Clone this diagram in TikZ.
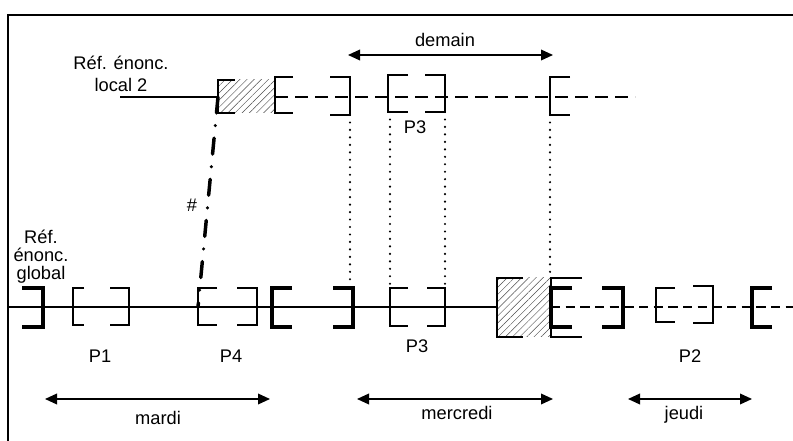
\documentclass[tikz,border=0pt]{standalone}
\usepackage{fontspec}
\setmainfont{Liberation Sans}
\usepackage{tikz}
\usetikzlibrary{arrows.meta}
\usetikzlibrary{patterns.meta}
\tikzset{
    thinbr/.style={line width=0.8pt},
    thickbr/.style={line width=3pt},
    lbl/.style={anchor=base, inner sep=0pt, align=center, font=\fontsize{13.7}{16.5}\selectfont},
    dayspan/.style={line width=1.1pt, {Triangle[length=9pt,width=8pt]}-{Triangle[length=9pt,width=8pt]}},
    dotline/.style={line width=1.8pt, line cap=round, dash pattern=on 0pt off 5.6pt},
    hatch/.style={pattern={Lines[angle=45,distance=3.8pt,line width=0.35pt]}, pattern color=black!70}
}

\begin{document}
\begin{tikzpicture}[x=0.75pt,y=-0.75pt]
\useasboundingbox (0,0) rectangle (793,441);
\draw[line width=2.2pt] (8,441)--(8,15)--(793,15);

\fill[hatch] (218,80) rectangle (275,113);
\fill[hatch] (497,278) rectangle (551,337);

\draw[line width=0.8pt] (120,97)--(218,97);
\draw[line width=2pt, dash pattern=on 10pt off 5pt] (275,97)--(635,97);
\draw[line width=0.8pt] (8,307)--(497,307);
\draw[line width=1.5pt, dash pattern=on 7pt off 4pt] (551,307)--(793,307);

\foreach \x/\t/\b/\a in {218/80/113/17, 275/77/113/18, 350/77/115/-20, 388/75/112/20, 445/75/112/-20, 550/77/115/20,
    73/288/325/11, 129/288/325/-19, 198/288/325/19, 257/288/325/-20, 390/288/326/18, 445/288/326/-18,
    656/288/322/19, 713/286/323/-20, 497/278/337/26, 551/278/337/31}{
    \draw[thinbr] (\x+\a,\t)--(\x,\t)--(\x,\b)--(\x+\a,\b);
}
\foreach \x/\a in {43/-21, 272/20, 353/-20, 551/21, 623/-21, 752/20}{
    \draw[thickbr] (\x+\a,288)--(\x,288)--(\x,327)--(\x+\a,327);
}

\foreach \x/\t/\b/\p in {350/115/282/a, 390/112/288/b, 445/112/288/c, 550/115/278/d}{
    \coordinate (up\p) at (\x,\t);
    \coordinate (dn\p) at (\x,\b);
    \draw[dotline] (up\p)--(dn\p);
}

\coordinate (hashtop) at (218,97);
\coordinate (hashbot) at (198,307);
\draw[line width=2.6pt, line cap=round, dash pattern=on 12pt off 9.5pt on 0pt off 9.5pt] (hashtop)--(hashbot);
\node (hash) at (192,212)[lbl] {\#};

\foreach \l/\r/\y/\p in {348/553/55/demain, 45/270/399/mardi, 357/553/399/mercredi, 628/752/399/jeudi}{
    \coordinate (\p L) at (\l,\y);
    \coordinate (\p R) at (\r,\y);
    \draw[dayspan] (\p L)--(\p R);
}

\foreach \x/\y/\p/\labeltext in {445/47/ndemain/{demain}, 158/425/nmardi/{mardi}, 457/420/nmercredi/{mercredi}, 684/420/njeudi/{jeudi},
    415/134/pthree/{P3}, 100/363/pone/{P1}, 231/363/pfour/{P4}, 417/353/pthreeb/{P3}, 690/363/ptwo/{P2}}{
    \node (\p) at (\x,\y)[lbl] {\labeltext};
}
\node (reflocal) at (121,92)[lbl] {Réf. énonc.\\local 2};
\node (refglobal) at (41,280)[lbl, font=\fontsize{13.7}{13.7}\selectfont] {Réf.\\énonc.\\global};
\end{tikzpicture}
\end{document}
